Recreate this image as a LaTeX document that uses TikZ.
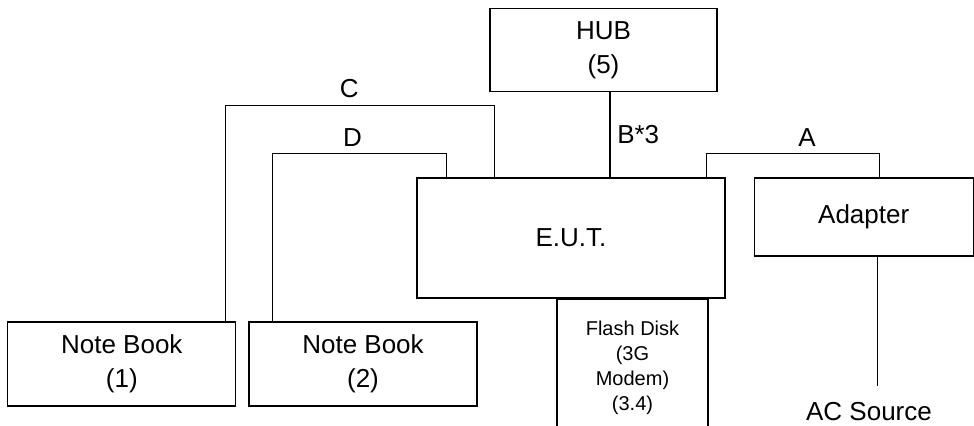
\documentclass[tikz,border=0pt]{standalone}
\usepackage{fontspec}
\setmainfont{Liberation Sans}
\usetikzlibrary{positioning}
\tikzstyle{unit} = [
    rectangle,
    minimum width=114pt,
    minimum height=42pt,
    align=center,
    draw=black,
    line width=0.6pt
]
\tikzstyle{smalltext} = [
    font=\fontsize{10}{12.5}\selectfont
]
\tikzstyle{cable} = [line width=0.6pt]

\begin{document}
\begin{tikzpicture}[x=0.5pt, y=-0.5pt, font=\fontsize{13}{17}\selectfont]

\useasboundingbox (0,0) rectangle (974,425);

\node (eut) [unit, minimum width=154pt, minimum height=60pt] at (571,238) {E.U.T.};

\node (hub) [unit, minimum width=113.5pt, minimum height=41.5pt,
    above=42.5pt of eut, xshift=16.25pt] {HUB\\(5)};

\node (flash) [unit, smalltext, minimum width=75.5pt, minimum height=69pt,
    below=0pt of eut, xshift=30.75pt] {Flash Disk\\(3G\\Modem)\\(3.4)};

\node (adapter) [unit, minimum width=109.5pt, minimum height=39pt,
    right=14pt of eut.north east, anchor=north west] {Adapter};

\node (nb2) [unit] at (363,364) {Note Book\\(2)};

\node (nb1) [unit, left=6pt of nb2] {Note Book\\(1)};

\node (ac) [anchor=base, inner ysep=7.5pt] at (869,420) {AC Source};

\draw [cable] ([xshift=-5.5pt]nb1.north east)
    |- ([xshift=39pt, yshift=36pt]eut.north west) node [pos=0.73, above] {C}
    -- ([xshift=39pt]eut.north west);
\draw [cable] ([xshift=12pt]nb2.north west)
    |- ([xshift=15pt, yshift=12pt]eut.north west) node [pos=0.73, above] {D}
    -- ([xshift=15pt]eut.north west);
\draw [cable] ([xshift=19.5pt]eut.north)
    -- ([xshift=19.5pt]eut.north |- hub.south) node [midway, right] {B*3};
\draw [cable] ([xshift=-9.5pt]eut.north east)
    |- ([xshift=63pt, yshift=12pt]adapter.north west) node [pos=0.79, above] {A}
    -- ([xshift=63pt]adapter.north west);
\draw [cable] ([xshift=6.75pt]adapter.south)
    -- ([xshift=6.75pt]adapter.south |- ac.north);

\end{tikzpicture}
\end{document}
